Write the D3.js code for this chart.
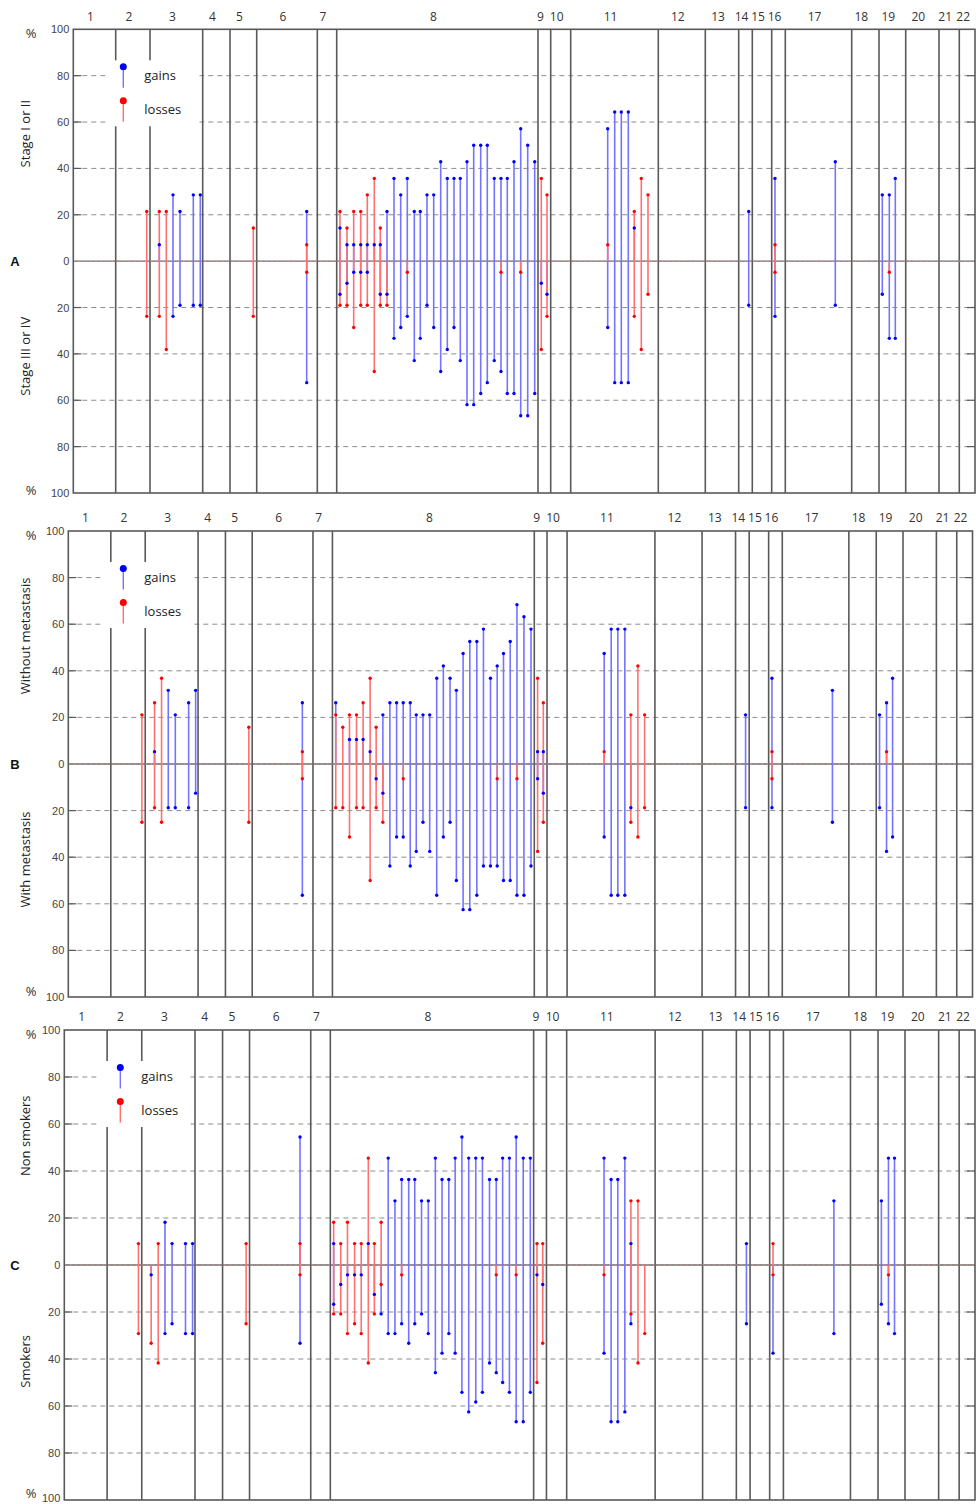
<!DOCTYPE html>
<html>
<head>
<meta charset="utf-8">
<script src="https://cdn.jsdelivr.net/npm/d3@7"></script>
<style>
  body { margin: 0; background: #fff; }
  svg { display: block; }
</style>
</head>
<body>
<svg id="chart" width="976" height="1504"></svg>
<script>
// ---- chromosome map (probe-map units) ----
const chromosomes = ["1","2","3","4","5","6","7","8","9","10","11","12","13","14","15","16","17","18","19","20","21","22"];
const chromEnds = [42.4, 76.7, 129.4, 156.7, 183.4, 244, 263.4, 464.7, 477.4, 497.4, 585, 632, 665.4, 679, 698.4, 712, 778.4, 805.7, 832.4, 865.7, 886, 901.7];

// probe positions on the same map
const probePos = [73.4, 86, 93, 99.7, 106.7, 120, 127, 180, 233.4,
  266.7, 273.7, 280.4, 287.4, 294, 301, 307, 313.7, 320.7, 327.4, 334, 341, 347, 353.7, 360.4, 367.4,
  374, 380.7, 387, 393.7, 400.4, 407.4, 414, 421, 427.7, 434, 440.7, 447.4, 454.4, 461.4,
  468, 473.7, 534.4, 541.4, 548, 555, 561, 568, 574.7, 675.4, 701.7, 762, 809, 816, 822];

const yTicks = [0, 20, 40, 60, 80, 100];
const panelLetters = ["A", "B", "C"];
const upperGroups = ["Stage I or II", "Without metastasis", "Non smokers"];
const lowerGroups = ["Stage III or IV", "With metastasis", "Smokers"];
const legendLabels = ["gains", "losses"];

// ---- A: stage I/II (upper) vs stage III/IV (lower), % of cases ----
const aGainUp = [0,7.1,0,28.6,21.4,28.6,28.6,0,21.4,
  14.3,7.1,7.1,7.1,7.1,7.1,7.1,21.4,35.7,28.6,35.7,21.4,21.4,28.6,28.6,42.9,35.7,35.7,35.7,42.9,50,50,50,35.7,35.7,35.7,42.9,57.1,50,42.9,
  0,0,57.1,64.3,64.3,64.3,14.3,0,0,21.4,35.7,42.9,28.6,28.6,35.7];
const aGainLow = [0,0,0,23.8,19,19,19,0,52.4,
  14.3,9.5,4.8,4.8,4.8,0,14.3,14.3,33.3,28.6,23.8,42.9,33.3,19,28.6,47.6,38.1,28.6,42.9,61.9,61.9,57.1,52.4,42.9,47.6,57.1,57.1,66.7,66.7,57.1,
  9.5,14.3,28.6,52.4,52.4,52.4,0,0,0,19,23.8,19,14.3,33.3,33.3];
const aLossUp = [21.4,21.4,21.4,0,0,0,0,14.3,7.1,
  21.4,14.3,21.4,21.4,28.6,35.7,14.3,0,0,0,0,0,0,0,0,0,0,0,0,0,0,0,0,0,0,0,0,0,0,0,
  35.7,28.6,7.1,0,0,0,21.4,35.7,28.6,0,7.1,0,0,0,0];
const aLossLow = [23.8,23.8,38.1,0,0,0,0,23.8,4.8,
  19,19,28.6,19,19,47.6,19,19,0,0,4.8,0,0,0,0,0,0,0,0,0,0,0,0,0,4.8,0,0,4.8,0,0,
  38.1,23.8,0,0,0,0,23.8,38.1,14.3,0,4.8,0,0,4.8,0];

// ---- B: without (upper) vs with (lower) metastasis ----
const bGainUp = [0,5.3,0,31.6,21.1,26.3,31.6,0,26.3,
  26.3,0,10.5,10.5,10.5,5.3,0,21.1,26.3,26.3,26.3,26.3,21.1,21.1,21.1,36.8,42.1,36.8,31.6,47.4,52.6,52.6,57.9,36.8,42.1,47.4,52.6,68.4,63.2,57.9,
  5.3,5.3,47.4,57.9,57.9,57.9,0,0,0,21.1,36.8,31.6,21.1,26.3,36.8];
const bGainLow = [0,0,0,18.8,18.8,18.8,12.5,0,56.3,
  0,0,0,0,0,0,6.3,12.5,43.8,31.3,31.3,43.8,37.5,25,37.5,56.3,31.3,25,50,62.5,62.5,56.3,43.8,43.8,43.8,50,50,56.3,56.3,43.8,
  6.3,12.5,31.3,56.3,56.3,56.3,18.8,0,0,18.8,18.8,25,18.8,37.5,31.3];
const bLossUp = [21.1,26.3,36.8,0,0,0,0,15.8,5.3,
  21.1,15.8,21.1,21.1,26.3,36.8,15.8,0,0,0,0,0,0,0,0,0,0,0,0,0,0,0,0,0,0,0,0,0,0,0,
  36.8,26.3,5.3,0,0,0,21.1,42.1,21.1,0,5.3,0,0,5.3,0];
const bLossLow = [25,18.8,25,0,0,0,0,25,6.3,
  18.8,18.8,31.3,18.8,18.8,50,18.8,25,0,0,6.3,0,0,0,0,0,0,0,0,0,0,0,0,0,6.3,0,0,6.3,0,0,
  37.5,25,0,0,0,0,25,31.3,18.8,0,6.3,0,0,0,0];

// ---- C: non smokers (upper) vs smokers (lower) ----
const cGainUp = [0,0,0,18.2,9.1,9.1,9.1,0,54.5,
  9.1,0,0,0,0,9.1,0,0,45.5,27.3,36.4,36.4,36.4,27.3,27.3,45.5,36.4,36.4,45.5,54.5,45.5,45.5,45.5,36.4,36.4,45.5,45.5,54.5,45.5,45.5,
  0,0,45.5,36.4,36.4,45.5,9.1,0,0,9.1,0,27.3,27.3,45.5,45.5];
const cGainLow = [0,4.2,0,29.2,25,29.2,29.2,0,33.3,
  16.7,8.3,4.2,4.2,4.2,0,12.5,20.8,29.2,29.2,25,33.3,25,20.8,29.2,45.8,37.5,29.2,37.5,54.2,62.5,58.3,54.2,41.7,45.8,50,54.2,66.7,66.7,54.2,
  4.2,8.3,37.5,66.7,66.7,62.5,25,0,0,25,37.5,29.2,16.7,25,29.2];
const cLossUp = [9.1,0,9.1,0,0,0,0,9.1,9.1,
  18.2,9.1,18.2,9.1,9.1,45.5,9.1,18.2,0,0,0,0,0,0,0,0,0,0,0,0,0,0,0,0,0,0,0,0,0,0,
  9.1,9.1,0,0,0,0,27.3,27.3,0,0,9.1,0,0,0,0];
const cLossLow = [29.2,33.3,41.7,0,0,0,0,25,4.2,
  20.8,20.8,29.2,25,29.2,41.7,20.8,8.3,0,0,4.2,0,0,0,0,0,0,0,0,0,0,0,0,0,4.2,0,0,4.2,0,0,
  50,33.3,4.2,0,0,0,20.8,41.7,29.2,0,4.2,0,0,4.2,0];

const panelData = [
  { gainUp: aGainUp, gainLow: aGainLow, lossUp: aLossUp, lossLow: aLossLow },
  { gainUp: bGainUp, gainLow: bGainLow, lossUp: bLossUp, lossLow: bLossLow },
  { gainUp: cGainUp, gainLow: cGainLow, lossUp: cLossUp, lossLow: cLossLow }
];

// ---- layout ----
const frames = [
  { left: 73.3, right: 975, top: 29.3, bottom: 493, legendDx: 50, pctLow: 3 },
  { left: 68.3, right: 972.5, top: 531, bottom: 997, legendDx: 55, pctLow: 6 },
  { left: 64.3, right: 975, top: 1030, bottom: 1500, legendDx: 56, pctLow: 7 }
];
const PAGE_H = 1504;

const GAIN_DOT = "#0000ff", LOSS_DOT = "#ff0000";
const GAIN_LINE = "#7474ff", LOSS_LINE = "#ff7070";
const GRID = "#8c8c8c", FRAME = "#595959";

const svg = d3.select("#chart");
const chromStarts = [0].concat(chromEnds.slice(0, -1));

frames.forEach((f, p) => {
  const g = svg.append("g");
  const zero = (f.top + f.bottom) / 2;
  const x = d3.scaleLinear().domain([0, chromEnds[chromEnds.length - 1]]).range([f.left, f.right]);
  const yUp = d3.scaleLinear().domain([0, 100]).range([zero, f.top]);
  const yLow = d3.scaleLinear().domain([0, 100]).range([zero, f.bottom]);

  // dashed grid
  const gridVals = [20, 40, 60, 80];
  const gridYs = gridVals.map(v => yUp(v)).concat(gridVals.map(v => yLow(v)));
  g.selectAll(".grid").data(gridYs).join("line")
    .attr("x1", f.left).attr("x2", f.right)
    .attr("y1", d => d).attr("y2", d => d)
    .attr("stroke", GRID).attr("stroke-width", 1)
    .attr("stroke-dasharray", "5,4");

  // chromosome boundaries
  g.selectAll(".chr").data(chromEnds.slice(0, -1)).join("line")
    .attr("x1", d => x(d)).attr("x2", d => x(d))
    .attr("y1", f.top).attr("y2", f.bottom)
    .attr("stroke", FRAME).attr("stroke-width", 1.6);

  // zero line
  g.append("line").attr("x1", f.left).attr("x2", f.right)
    .attr("y1", zero).attr("y2", zero)
    .attr("stroke", "#6a6a6a").attr("stroke-width", 1.4);
  g.append("line").attr("x1", f.left).attr("x2", f.right)
    .attr("y1", zero).attr("y2", zero)
    .attr("stroke", "#ff9090").attr("stroke-width", 0.8)
    .attr("stroke-dasharray", "1.5,4");

  // frame
  g.append("rect").attr("x", f.left).attr("y", f.top)
    .attr("width", f.right - f.left).attr("height", f.bottom - f.top)
    .attr("fill", "none").attr("stroke", FRAME).attr("stroke-width", 1.6);

  // inner tick marks on both sides
  const tickYs = gridYs;
  g.selectAll(".tl").data(tickYs).join("line")
    .attr("x1", f.left).attr("x2", f.left + 8)
    .attr("y1", d => d).attr("y2", d => d)
    .attr("stroke", FRAME).attr("stroke-width", 1.2);
  g.selectAll(".tr").data(tickYs).join("line")
    .attr("x1", f.right - 8).attr("x2", f.right)
    .attr("y1", d => d).attr("y2", d => d)
    .attr("stroke", FRAME).attr("stroke-width", 1.2);

  // y-axis labels via d3 axes
  const axUp = d3.axisLeft(yUp).tickValues(yTicks).tickSize(0).tickPadding(4);
  const axLow = d3.axisLeft(yLow).tickValues(yTicks.slice(1)).tickSize(0).tickPadding(4);
  [axUp, axLow].forEach(ax => {
    const a = g.append("g").attr("transform", `translate(${f.left},0)`).call(ax);
    a.select(".domain").remove();
    a.selectAll("text").attr("font-family", "Liberation Sans, Arial, sans-serif")
      .attr("font-size", 11).attr("fill", "#444");
    // keep the lowest label inside the page
    a.selectAll(".tick").each(function () {
      const t = d3.select(this);
      const ty = +t.attr("transform").match(/,([\d.]+)\)/)[1];
      if (ty > PAGE_H - 6) t.select("text").attr("y", PAGE_H - 6 - ty);
    });
  });

  // percent signs
  g.append("text").attr("x", 31).attr("y", f.top + 4).attr("dy", "0.35em")
    .attr("text-anchor", "middle").attr("font-family", "Open Sans, sans-serif")
    .attr("font-size", 13).attr("fill", "#333").text("%");
  g.append("text").attr("x", 31).attr("y", f.bottom - f.pctLow).attr("dy", "0.35em")
    .attr("text-anchor", "middle").attr("font-family", "Open Sans, sans-serif")
    .attr("font-size", 13).attr("fill", "#333").text("%");

  // chromosome labels
  g.selectAll(".cl").data(chromosomes).join("text")
    .attr("x", (d, i) => x((chromStarts[i] + chromEnds[i]) / 2 - 4))
    .attr("y", f.top - 13).attr("dy", "0.35em")
    .attr("text-anchor", "middle")
    .attr("font-family", "Open Sans, sans-serif").attr("font-size", 12)
    .attr("fill", "#333").text(d => d);

  // group titles
  const titleX = 25;
  const tyUp = f.top + (zero - f.top) * 0.45;
  const tyLow = zero + (f.bottom - zero) * 0.41;
  g.append("text").attr("transform", `translate(${titleX},${tyUp}) rotate(-90)`)
    .attr("text-anchor", "middle").attr("dy", "0.35em")
    .attr("font-family", "Open Sans, sans-serif").attr("font-size", 13)
    .attr("fill", "#222").text(upperGroups[p]);
  g.append("text").attr("transform", `translate(${titleX},${tyLow}) rotate(-90)`)
    .attr("text-anchor", "middle").attr("dy", "0.35em")
    .attr("font-family", "Open Sans, sans-serif").attr("font-size", 13)
    .attr("fill", "#222").text(lowerGroups[p]);

  // panel letter
  g.append("text").attr("x", 15).attr("y", zero).attr("dy", "0.35em")
    .attr("text-anchor", "middle").attr("font-family", "Liberation Sans, Arial, sans-serif")
    .attr("font-size", 13).attr("font-weight", "bold").attr("fill", "#111")
    .text(panelLetters[p]);

  // legend
  const lg = g.append("g");
  lg.append("rect").attr("x", f.left + 35).attr("y", f.top + 31)
    .attr("width", 91).attr("height", 66).attr("fill", "#fff");
  const lx = f.left + f.legendDx;
  [[GAIN_DOT, GAIN_LINE], [LOSS_DOT, LOSS_LINE]].forEach((c, k) => {
    const cy = f.top + 37.5 + k * 34;
    lg.append("line").attr("x1", lx).attr("x2", lx).attr("y1", cy).attr("y2", cy + 21)
      .attr("stroke", c[1]).attr("stroke-width", 1.4);
    lg.append("circle").attr("cx", lx).attr("cy", cy).attr("r", 3.5).attr("fill", c[0]);
    lg.append("text").attr("x", lx + 21).attr("y", cy + 9).attr("dy", "0.35em")
      .attr("font-family", "Open Sans, sans-serif").attr("font-size", 13)
      .attr("fill", "#222").text(legendLabels[k]);
  });

  // stems
  const d = panelData[p];
  const idx = d3.range(probePos.length);
  const gainIdx = idx.filter(i => d.gainUp[i] > 0 || d.gainLow[i] > 0);
  const lossIdx = idx.filter(i => d.lossUp[i] > 0 || d.lossLow[i] > 0);

  g.selectAll(".gs").data(gainIdx).join("line")
    .attr("x1", i => x(probePos[i])).attr("x2", i => x(probePos[i]))
    .attr("y1", i => yUp(d.gainUp[i])).attr("y2", i => yLow(d.gainLow[i]))
    .attr("stroke", GAIN_LINE).attr("stroke-width", 1.6);
  g.selectAll(".ls").data(lossIdx).join("line")
    .attr("x1", i => x(probePos[i])).attr("x2", i => x(probePos[i]))
    .attr("y1", i => yUp(d.lossUp[i])).attr("y2", i => yLow(d.lossLow[i]))
    .attr("stroke", LOSS_LINE).attr("stroke-width", 1.6);

  const dots = [];
  idx.forEach(i => {
    if (d.gainUp[i] > 0) dots.push({ i, y: yUp(d.gainUp[i]), c: GAIN_DOT });
    if (d.gainLow[i] > 0) dots.push({ i, y: yLow(d.gainLow[i]), c: GAIN_DOT });
    if (d.lossUp[i] > 0) dots.push({ i, y: yUp(d.lossUp[i]), c: LOSS_DOT });
    if (d.lossLow[i] > 0) dots.push({ i, y: yLow(d.lossLow[i]), c: LOSS_DOT });
  });
  g.selectAll(".dot").data(dots).join("circle")
    .attr("cx", e => x(probePos[e.i])).attr("cy", e => e.y)
    .attr("r", 1.7).attr("fill", e => e.c);
});
</script>
</body>
</html>
